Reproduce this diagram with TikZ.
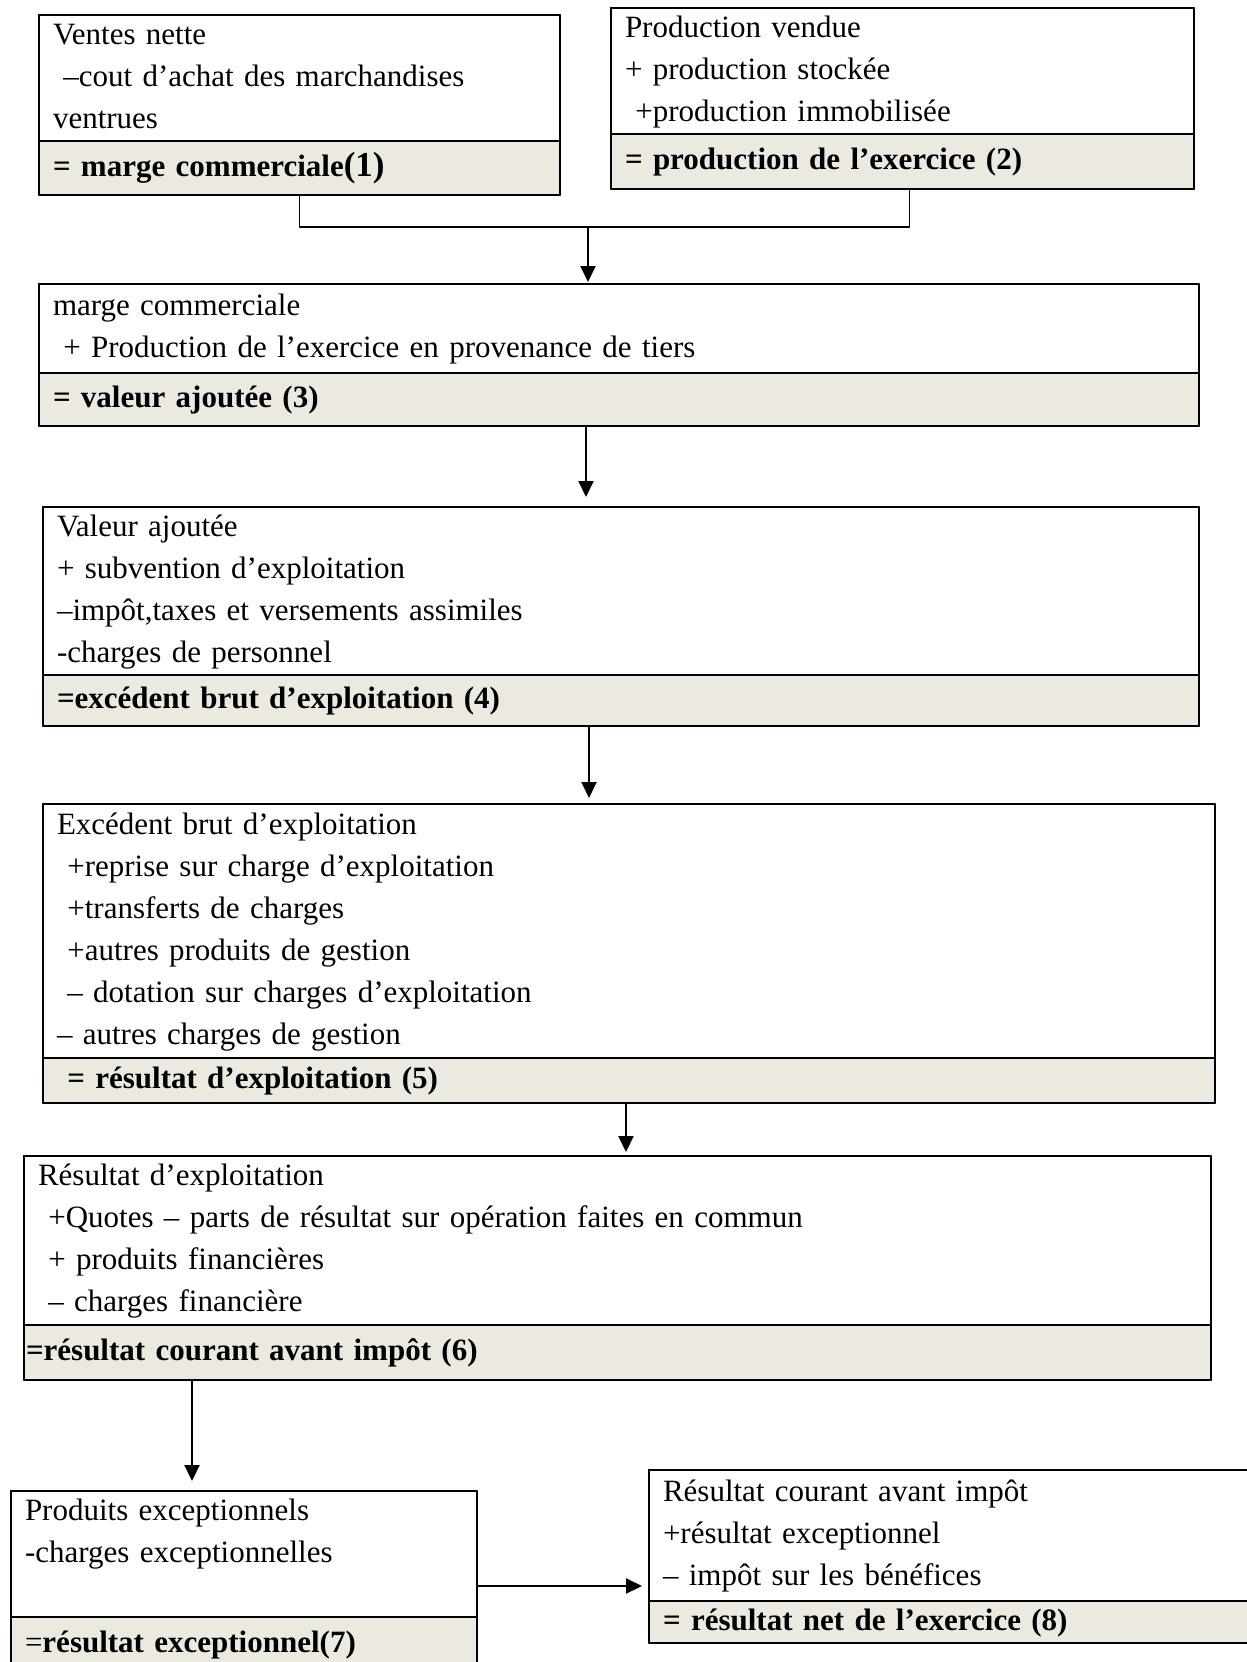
\documentclass[tikz,border=0pt]{standalone}
\usepackage{fontspec}
\setmainfont{Liberation Serif}
\usetikzlibrary{positioning,arrows.meta}
\definecolor{beige}{RGB}{236,233,224}

\begin{document}
\begin{tikzpicture}[x=1pt,y=-1pt,line join=round,>={Triangle[length=16pt,width=15pt]}]
	\tikzset{corps/.style={draw,line width=1.2pt,anchor=north west,align=left,outer sep=0pt,inner xsep=14pt,inner ysep=0pt,font=\fontsize{31}{42}\selectfont,execute at begin node=\strut,execute at end node=\strut}}
	\tikzset{total/.style={corps,anchor=north,fill=beige,font=\bfseries\fontsize{31}{42}\selectfont,minimum height=54pt}}
	\tikzset{cadre/.style={line width=2.4pt}}
	\tikzset{fleche/.style={->,line width=2pt}}
	\useasboundingbox (0,0) rectangle (1247,1662);
	% marge commerciale
	\node[corps,text width=493pt] (haut1) at (39,15) {Ventes nette\\~–cout d’achat des marchandises\\ventrues};
	\node[total,text width=493pt,below=0pt of haut1] (bas1) {= marge commerciale{\fontsize{35}{42}\selectfont(1)}};
	% production de l'exercice
	\node[corps,text width=555pt] (haut2) at (611,8) {Production vendue\\+ production stockée\\~+production immobilisée};
	\node[total,text width=555pt,minimum height=55pt,below=0pt of haut2] (bas2) {= production de l’exercice (2)};
	% valeur ajoutee
	\node[corps,text width=1132pt,minimum height=89pt] (haut3) at (39,284) {marge commerciale\\~+ Production de l’exercice en provenance de tiers};
	\node[total,text width=1132pt,minimum height=53pt,below=0pt of haut3] (bas3) {= valeur ajoutée (3)};
	% EBE
	\node[corps,text width=1128pt] (haut4) at (43,507) {Valeur ajoutée\\+ subvention d’exploitation\\–impôt,taxes et versements assimiles\\-charges de personnel};
	\node[total,text width=1128pt,minimum height=51pt,below=0pt of haut4] (bas4) {=excédent brut d’exploitation (4)};
	% resultat d'exploitation
	\node[corps,text width=1144pt,minimum height=254pt] (haut5) at (43,804) {Excédent brut d’exploitation\\~+reprise sur charge d’exploitation\\~+transferts de charges\\~+autres produits de gestion\\~– dotation sur charges d’exploitation\\– autres charges de gestion};
	\node[total,text width=1144pt,minimum height=45pt,below=0pt of haut5] (bas5) {~= résultat d’exploitation (5)};
	% resultat courant
	\node[corps,text width=1159pt,minimum height=169pt] (haut6) at (24,1156) {Résultat d’exploitation\\~+Quotes – parts de résultat sur opération faites en commun\\~+ produits financières\\~– charges financière};
	\node[total,text width=1159pt,minimum height=55pt,below=0pt of haut6] (bas6) {\hspace{-12pt}=résultat courant avant impôt (6)};
	% resultat exceptionnel
	\node[corps,text width=438pt] (haut7) at (11,1491) {Produits exceptionnels\\-charges exceptionnelles\\};
	\node[total,text width=438pt,below=0pt of haut7] (bas7) {{\mdseries=}résultat exceptionnel(7)};
	% resultat net
	\node[corps,text width=592pt,minimum height=131pt] (haut8) at (649,1470) {Résultat courant avant impôt\\+résultat exceptionnel\\– impôt sur les bénéfices};
	\node[total,text width=592pt,minimum height=40pt,below=0pt of haut8] (bas8) {= résultat net de l’exercice (8)};
	\foreach \n in {1,...,8}
		\draw[cadre] (haut\n.north west) rectangle (bas\n.south east);
	% fleches
	\coordinate (jonction) at (588,227);
	\draw[line width=1.6pt] (bas1.south) |- (jonction) -| ([xshift=7pt]bas2.south);
	\draw[fleche,shorten >=2pt] (jonction) -- (jonction |- haut3.north);
	\draw[fleche,shorten >=10pt] ([xshift=-33pt]bas3.south) -- ([xshift=-33pt]bas3.south |- haut4.north);
	\draw[fleche,shorten >=6pt] ([xshift=-32pt]bas4.south) -- ([xshift=-32pt]bas4.south |- haut5.north);
	\draw[fleche,shorten >=4pt] ([xshift=-3pt]bas5.south) -- ([xshift=-3pt]bas5.south |- haut6.north);
	\draw[fleche,shorten >=10pt] ([xshift=-52pt]haut7.north |- bas6.south) -- ([xshift=-52pt]haut7.north);
	\draw[fleche,shorten >=7pt] ([yshift=-32pt]haut7.east) -- ([yshift=-32pt]haut7.east -| haut8.west);
\end{tikzpicture}
\end{document}
